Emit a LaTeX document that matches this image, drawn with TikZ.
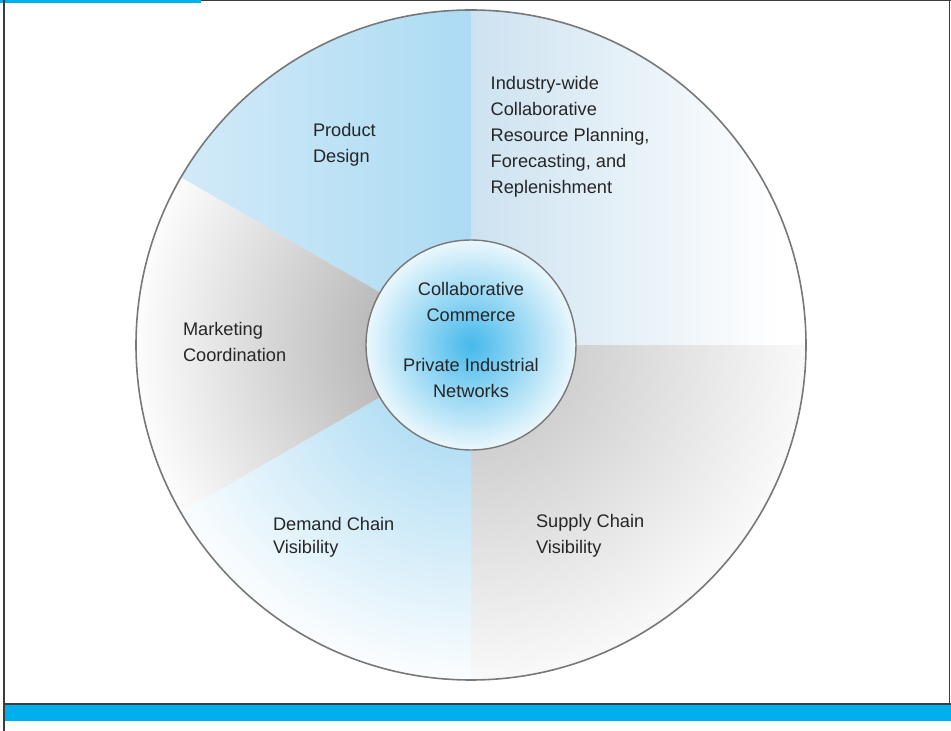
\documentclass[tikz,border=0pt]{standalone}
\usepackage{fontspec}
\setmainfont{Liberation Sans}
\definecolor{frameblue}{RGB}{0,176,236}
\definecolor{framegray}{RGB}{60,60,60}
\definecolor{rimgray}{RGB}{120,120,120}
\definecolor{txtcol}{RGB}{38,38,38}
\definecolor{pdleft}{RGB}{210,234,248}
\definecolor{pdright}{RGB}{172,219,243}
\definecolor{mkgray}{RGB}{158,158,158}
\definecolor{demblue}{RGB}{150,210,240}
\definecolor{supgray}{RGB}{190,190,190}
\definecolor{indblue}{RGB}{205,226,240}
\definecolor{hubblue}{RGB}{70,185,235}
\begin{document}
\begin{tikzpicture}[x=1pt,y=1pt,
  lbl/.style={inner sep=0pt, outer sep=0pt, text=txtcol, align=left,
    font=\fontsize{18.2}{26}\selectfont},
  rim/.style={draw=rimgray, line width=1.6pt},
  framerule/.style={draw=framegray, line width=1.6pt}]
\useasboundingbox (0,0) rectangle (951,731);
\coordinate (C) at (471,386);
% sectors
\begin{scope}
  \clip (C) -- ++(90:335) arc[start angle=90, end angle=150, radius=335] -- cycle;
  \shade[left color=pdleft, right color=pdright] (181,386) rectangle (471,721);
\end{scope}
\begin{scope}
  \clip (C) -- ++(150:335) arc[start angle=150, end angle=210, radius=335] -- cycle;
  \shade[inner color=mkgray, outer color=white] (C) circle (345);
\end{scope}
\begin{scope}
  \clip (C) -- ++(210:335) arc[start angle=210, end angle=270, radius=335] -- cycle;
  \shade[inner color=demblue, outer color=white] (C) circle (350);
\end{scope}
\begin{scope}
  \clip (C) -- ++(270:335) arc[start angle=270, end angle=360, radius=335] -- cycle;
  \shade[inner color=supgray, outer color=white] (C) circle (370);
\end{scope}
\begin{scope}
  \clip (C) -- ++(0:335) arc[start angle=0, end angle=90, radius=335] -- cycle;
  \shade[left color=indblue, right color=white] (471,386) rectangle (780,721);
\end{scope}
% hub
\begin{scope}
  \clip (C) circle (105);
  \shade[inner color=hubblue, outer color=white] (C) circle (118);
\end{scope}
\draw[rim] (C) circle (335);
\node[circle, draw=rimgray, line width=1.4pt, minimum size=210pt, inner sep=0pt] (hub) at (C) {};
% labels
\node[lbl, anchor=north west] (ind) at (490.7,655)
  {Industry-wide\\Collaborative\\Resource Planning,\\Forecasting, and\\Replenishment};
\node[lbl, anchor=north west] (prod) at (313,608) {Product\\Design};
\node[lbl, anchor=north west] (mkt) at (183,409) {Marketing\\Coordination};
\node[lbl, anchor=north west, font=\fontsize{18.2}{23}\selectfont] (dem) at (273,214) {Demand Chain\\Visibility};
\node[lbl, anchor=north west] (sup) at (536,217) {Supply Chain\\Visibility};
\node[lbl, anchor=north, align=center] (collab) at (471,449) {Collaborative\\Commerce};
\node[lbl, anchor=north, align=center] (pin) at (471,373) {Private Industrial\\Networks};
% frame
\fill[frameblue] (0,728.4) rectangle (201,731);
\draw[framegray, line width=1.2pt] (201,730.2) -- (951,730.2);
\draw[framerule] (4,731) -- (4,0);
\draw[framerule] (949.6,731) -- (949.6,27);
\draw[framerule] (4,27) -- (951,27);
\fill[frameblue] (4.8,26.2) rectangle (951,10);
\end{tikzpicture}
\end{document}
